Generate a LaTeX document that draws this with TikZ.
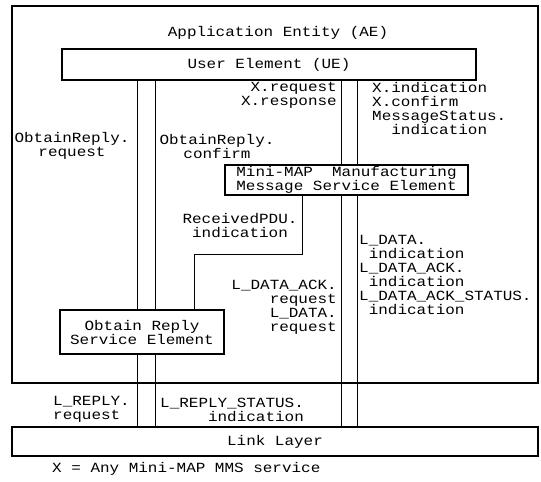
\documentclass[tikz,border=0pt]{standalone}
\usepackage{fontspec}
\setmonofont[FakeStretch=1.14]{Liberation Mono}
\usetikzlibrary{positioning}

\begin{document}
\begin{tikzpicture}[
    x = 1pt,
    y = -1pt,
    font = \ttfamily\fontsize{14}{14}\selectfont,
    box/.style = {
        rectangle,
        draw = black,
        line width = 1.3pt,
        inner sep = 0pt,
        align = center
    },
    line/.style = {
        draw = black,
        line width = 1pt
    },
    tag/.style = {
        inner sep = 0pt
    }
]
    \useasboundingbox (0,0) rectangle (541,482);

    % Boxes
    \node [box, minimum width = 526pt, minimum height = 377pt] (ae) at (275,194.5) {};
    \node [tag] (title) at (278,33) {Application Entity (AE)};
    \node [box, minimum width = 414pt, minimum height = 31pt] (ue) at (269,64.5) {User Element (UE)};
    \node [box, minimum width = 243pt, minimum height = 30pt] (mms) at (346.5,180) {Mini-MAP~~Manufacturing\\Message Service Element};
    \node [box, minimum width = 164pt, minimum height = 44pt] (ors) at (142,332) {Obtain Reply\\Service Element};
    \node [box, minimum width = 526pt, minimum height = 29pt] (link) at (275,441.5) {Link Layer};

    % Labels
    \node [tag, align = center] (orreq) at (72,146) {ObtainReply.\\request};
    \node [tag, align = center] (orconf) at (217,146) {ObtainReply.\\confirm};
    \node [tag, align = right, anchor = east] (xreq) at (337,95) {X.request\\X.response};
    \node [tag, align = left, anchor = west] (xind) at (372,109) {X.indication\\X.confirm\\MessageStatus.\\\phantom{Me}indication};
    \node [tag, align = center] (rpdu) at (240,225.5) {ReceivedPDU.\\indication};
    \node [tag, align = right, anchor = east] (ldreq) at (337,307.5) {L\_DATA\_ACK.\\request\\L\_DATA.\\request};
    \node [tag, align = left, anchor = west] (ldind) at (359,274.5) {L\_DATA.\\\phantom{I}indication\\L\_DATA\_ACK.\\\phantom{I}indication\\L\_DATA\_ACK\_STATUS.\\\phantom{I}indication};
    \node [tag, align = left, anchor = west] (lrreq) at (53,409.5) {L\_REPLY.\\request};
    \node [tag, align = right, anchor = west] (lrstat) at (160,409.5) {L\_REPLY\_STATUS.\\indication};
    \node [tag, anchor = west] (note) at (52,469) {X = Any Mini-MAP MMS service};

    % Lines
    \coordinate (l1) at (137,0);
    \coordinate (l2) at (155,0);
    \coordinate (l3) at (341,0);
    \coordinate (l4) at (357,0);
    \coordinate (pdu) at (302,0);
    \coordinate (pdubend) at (194,254);

    \draw [line] (l1 |- ue.south) -- (l1 |- ors.north);
    \draw [line] (l2 |- ue.south) -- (l2 |- ors.north);
    \draw [line] (l1 |- ors.south) -- (l1 |- link.north);
    \draw [line] (l2 |- ors.south) -- (l2 |- link.north);
    \draw [line] (l3 |- ue.south) -- (l3 |- mms.north);
    \draw [line] (l4 |- ue.south) -- (l4 |- mms.north);
    \draw [line] (l3 |- mms.south) -- (l3 |- link.north);
    \draw [line] (l4 |- mms.south) -- (l4 |- link.north);
    \draw [line] (pdu |- mms.south) |- (pdubend) -- (pdubend |- ors.north);

\end{tikzpicture}
\end{document}
